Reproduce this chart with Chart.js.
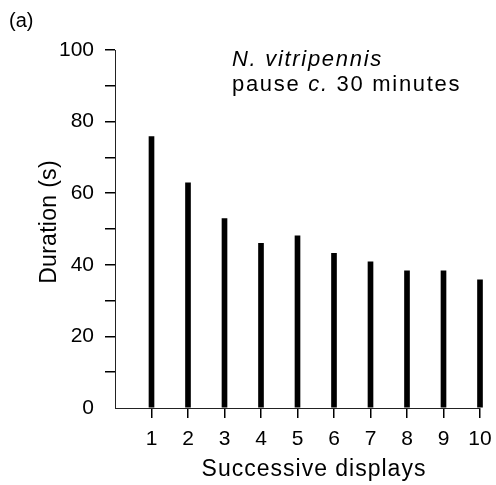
<!DOCTYPE html>
<html>
<head>
<meta charset="utf-8">
<script src="https://cdn.jsdelivr.net/npm/chart.js@4/dist/chart.umd.min.js"></script>
<style>
  html, body { margin: 0; padding: 0; background: #fff; }
  #wrap { width: 496px; height: 485px; position: relative; }
</style>
</head>
<body>
<div id="wrap"><canvas id="c" width="496" height="485"></canvas></div>
<script>
// ---- data ----
const displays = [1, 2, 3, 4, 5, 6, 7, 8, 9, 10];
const durations = [75.8, 62.9, 52.9, 46.0, 48.1, 43.2, 40.8, 38.3, 38.3, 35.8];
const yLabelEvery = 20;
const xTitle = 'Successive displays';
const yTitle = 'Duration (s)';
const panelLabel = '(a)';
const speciesLine = 'N. vitripennis';
const noteParts = [['pause ', false], ['c.', true], [' 30 minutes', false]];

const FONT = '"Liberation Sans", Arial, Helvetica, sans-serif';
const INK = '#000';

const textPlugin = {
  id: 'texts',
  afterDraw(chart) {
    const ctx = chart.ctx;
    ctx.save();
    ctx.fillStyle = INK;
    ctx.textBaseline = 'alphabetic';

    // panel label
    ctx.letterSpacing = '0px';
    ctx.font = '20px ' + FONT;
    ctx.textAlign = 'left';
    ctx.fillText(panelLabel, 9, 27);

    // annotation
    ctx.letterSpacing = '1.7px';
    ctx.font = 'italic 22px ' + FONT;
    ctx.fillText(speciesLine, 232, 66);
    let x = 232;
    for (const [txt, it] of noteParts) {
      ctx.font = (it ? 'italic ' : '') + '22px ' + FONT;
      ctx.fillText(txt, x, 91);
      x += ctx.measureText(txt).width;
    }

    // x title
    ctx.letterSpacing = '1px';
    ctx.font = '23px ' + FONT;
    ctx.textAlign = 'center';
    ctx.fillText(xTitle, 314, 476);

    // y title
    ctx.letterSpacing = '0.3px';
    ctx.translate(56, 222);
    ctx.rotate(-Math.PI / 2);
    ctx.fillText(yTitle, 0, 0);
    ctx.restore();
  }
};

new Chart(document.getElementById('c'), {
  type: 'bar',
  data: {
    datasets: [{
      data: displays.map((d, i) => ({ x: d, y: durations[i] })),
      backgroundColor: '#000',
      borderWidth: 0,
      barThickness: 5,
      clip: false
    }]
  },
  options: {
    responsive: false,
    animation: false,
    devicePixelRatio: 1,
    layout: { padding: { left: 0, right: 16, top: 50, bottom: 0 } },
    plugins: { legend: { display: false }, tooltip: { enabled: false }, title: { display: false } },
    scales: {
      x: {
        type: 'linear',
        offset: false,
        min: 0, max: 10,
        afterFit(s) { s.height = 77; s.paddingRight = 0; },
        ticks: {
          stepSize: 1, autoSkip: false, maxRotation: 0,
          color: INK, padding: 9,
          font: { family: FONT, size: 21 },
          callback: v => (v === 0 ? '' : String(v))
        },
        grid: {
          offset: false,
          drawOnChartArea: false, drawTicks: true, tickLength: 10,
          color: c => (c.tick && c.tick.value === 0 ? 'rgba(0,0,0,0)' : INK),
          lineWidth: 1.5
        },
        border: { display: true, color: '#222', width: 1 }
      },
      y: {
        min: 0, max: 100,
        afterFit(s) { s.width = 115; },
        ticks: {
          stepSize: 10, color: INK, padding: 11,
          font: { family: FONT, size: 21 },
          callback: v => (v % yLabelEvery === 0 ? String(v) : '')
        },
        grid: {
          drawOnChartArea: false, drawTicks: true, tickLength: 10,
          color: c => (c.tick && c.tick.value === 0 ? 'rgba(0,0,0,0)' : INK),
          lineWidth: 1.5
        },
        border: { display: true, color: '#222', width: 1 }
      }
    }
  },
  plugins: [textPlugin]
});
</script>
</body>
</html>
